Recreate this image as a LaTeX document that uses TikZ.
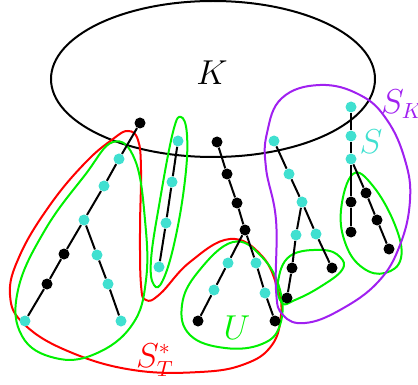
\documentclass[tikz,border=0pt]{standalone}
\usepackage{amsmath}
\usetikzlibrary{positioning}

\definecolor{turq}{RGB}{64,224,208}
\definecolor{viola}{RGB}{160,32,240}
\definecolor{verde}{RGB}{0,240,0}

\begin{document}
\begin{tikzpicture}[
    x=0.5pt, y=-0.5pt,
    % Stili dei nodi
    bpt/.style={circle, fill=black, inner sep=0pt, minimum size=5.5pt},
    cpt/.style={circle, fill=turq, inner sep=0pt, minimum size=5.5pt},
    edge/.style={line width=1pt},
    hull/.style={line width=1pt, smooth cycle, tension=0.7},
    lab/.style={font=\fontsize{16}{19}\selectfont}
]
    \useasboundingbox (0,0) rectangle (418,385);

    % ==================== INSIEME K ====================
    \draw [edge] (213,79) ellipse [x radius=162, y radius=78];
    \node [lab] (K) at (212,73) {$K$};

    % ==================== CURVE ====================
    % S_T^*
    \draw [edge, red] plot [hull] coordinates {(113,139) (128,131) (138,140) (141,170) (140,230) (141,285) (146,300) (160,294) (190,262) (230,239) (262,256) (278,290) (281,315) (272,345) (245,364) (200,372) (133,370) (70,352) (25,325) (10,295) (20,255) (50,205) (85,163)};
    % U
    \draw [edge, verde] plot [hull] coordinates {(113,142) (135,160) (145,220) (146,280) (132,325) (95,354) (55,358) (22,336) (18,290) (45,230) (85,175)};
    \draw [edge, verde] plot [hull] coordinates {(181,117) (187,135) (185,180) (175,240) (163,280) (154,285) (151,260) (160,200) (173,132)};
    \draw [edge, verde] plot [hull] coordinates {(233,242) (262,257) (280,290) (280,325) (262,344) (225,348) (190,335) (182,305) (198,272)};
    \draw [edge, verde] plot [hull] coordinates {(290,256) (322,250) (340,257) (342,270) (320,287) (295,300) (282,303) (278,282)};
    \draw [edge, verde] plot [hull] coordinates {(353,174) (373,186) (395,225) (401,258) (385,273) (363,268) (346,245) (341,210)};
    % S_K
    \draw [edge, viola] plot [hull] coordinates {(267,133) (282,98) (320,85) (360,95) (387,120) (405,160) (410,200) (400,245) (378,282) (340,310) (305,323) (283,315) (276,290) (276,220) (266,168)};

    % ==================== ALBERI ====================
    % primo albero
    \node [bpt] (a1) at (140,123) {};
    \node [cpt] (a2) at (119,159) {};
    \node [cpt] (a3) at (104,186) {};
    \node [cpt] (a4) at (84,220) {};
    \node [bpt] (a5) at (64,254) {};
    \node [bpt] (a6) at (47,284) {};
    \node [cpt] (a7) at (25,321) {};
    \node [cpt] (a8) at (97,255) {};
    \node [cpt] (a9) at (108,284) {};
    \node [cpt] (a10) at (121,321) {};
    \draw [edge] (a1) -- (a2) -- (a3) -- (a4) -- (a5) -- (a6) -- (a7);
    \draw [edge] (a4) -- (a8) -- (a9) -- (a10);

    % secondo albero
    \node [cpt] (b1) at (178,141) {};
    \node [cpt] (b2) at (172,182) {};
    \node [cpt] (b3) at (166,223) {};
    \node [cpt] (b4) at (159,267) {};
    \draw [edge] (b1) -- (b2) -- (b3) -- (b4);

    % terzo albero
    \node [bpt] (c1) at (217,142) {};
    \node [bpt] (c2) at (227,174) {};
    \node [bpt] (c3) at (237,203) {};
    \node [bpt] (c4) at (245,230) {};
    \node [cpt] (c5) at (228,263) {};
    \node [cpt] (c6) at (214,290) {};
    \node [bpt] (c7) at (198,321) {};
    \node [cpt] (c8) at (256,263) {};
    \node [cpt] (c9) at (265,293) {};
    \node [bpt] (c10) at (275,321) {};
    \draw [edge] (c1) -- (c2) -- (c3) -- (c4) -- (c5) -- (c6) -- (c7);
    \draw [edge] (c4) -- (c8) -- (c9) -- (c10);

    % quarto albero
    \node [cpt] (d1) at (274,141) {};
    \node [cpt] (d2) at (289,174) {};
    \node [cpt] (d3) at (302,202) {};
    \node [cpt] (d4) at (296,235) {};
    \node [bpt] (d5) at (292,268) {};
    \node [bpt] (d6) at (287,298) {};
    \node [cpt] (d7) at (316,234) {};
    \node [bpt] (d8) at (332,268) {};
    \draw [edge] (d1) -- (d2) -- (d3) -- (d4) -- (d5) -- (d6);
    \draw [edge] (d3) -- (d7) -- (d8);

    % quinto albero
    \node [cpt] (e1) at (351,107) {};
    \node [cpt] (e2) at (351,136) {};
    \node [cpt] (e3) at (351,159) {};
    \node [bpt] (e4) at (351,202) {};
    \node [bpt] (e5) at (351,232) {};
    \node [bpt] (e6) at (366,193) {};
    \node [bpt] (e7) at (377,220) {};
    \node [bpt] (e8) at (389,249) {};
    \draw [edge] (e1) -- (e2) -- (e3) -- (e4) -- (e5);
    \draw [edge] (e3) -- (e6) -- (e7) -- (e8);

    % ==================== ETICHETTE ====================
    \node [lab, text=viola] (SK) at (402,104) {$S_K$};
    \node [lab, text=turq] (S) at (371,142) {$S$};
    \node [lab, text=verde] (U) at (237,328) {$U$};
    \node [lab, text=red] (ST) at (155,360) {$S_T^*$};

\end{tikzpicture}
\end{document}
